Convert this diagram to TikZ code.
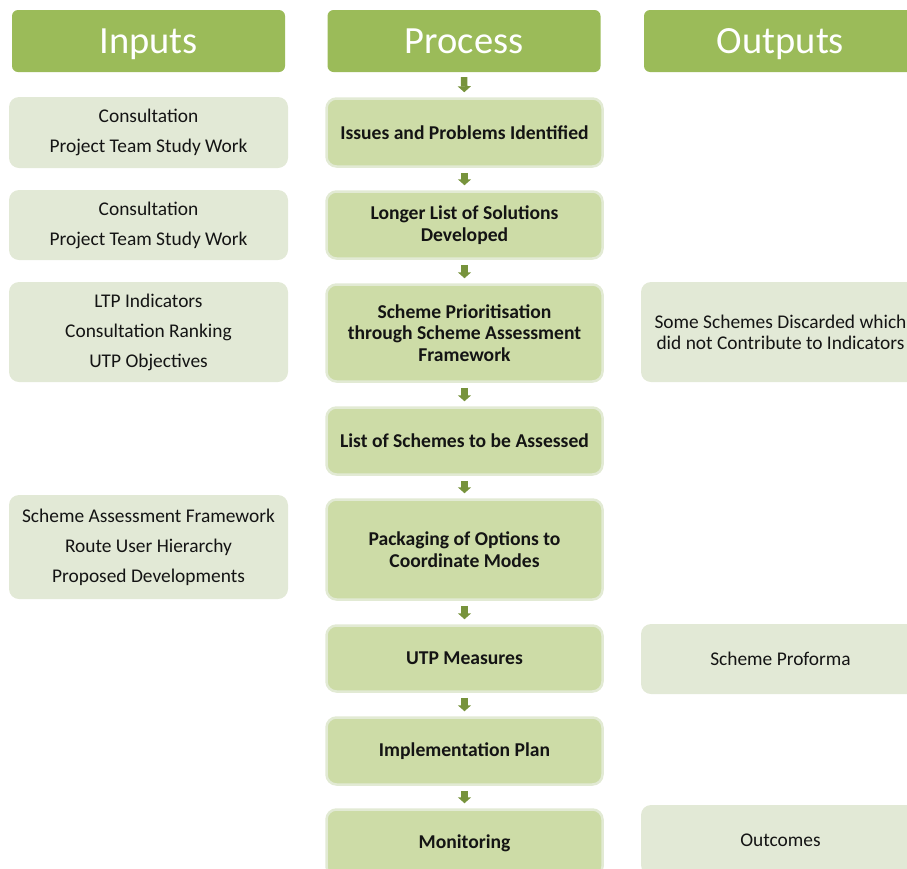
\documentclass[tikz,border=0pt]{standalone}
\usepackage{fontspec}
\setmainfont{Carlito}
\usepackage{xcolor}
\usepackage{tikz}
\usetikzlibrary{arrows.meta,positioning}

\definecolor{headgreen}{RGB}{155,187,89}
\definecolor{procfill}{RGB}{205,220,167}
\definecolor{procedge}{RGB}{226,234,212}
\definecolor{sidefill}{RGB}{226,233,214}
\definecolor{arrowgreen}{RGB}{119,147,60}
\definecolor{txt}{RGB}{20,20,20}

\begin{document}
\begin{tikzpicture}[x=1pt,y=-1pt,
    head/.style={fill=headgreen, rounded corners=6pt, minimum width=273pt, minimum height=62pt,
        inner sep=0pt, text height=26pt, text depth=2pt, text=white, font=\fontsize{38.5}{40}\selectfont},
    side/.style={fill=sidefill, rounded corners=10pt, minimum width=279pt, inner sep=0pt,
        align=center, text=txt, font=\fontsize{19.4}{30}\selectfont},
    sideout/.style={side, font=\fontsize{19.4}{21}\selectfont},
    proc/.style={fill=procfill, draw=procedge, line width=2.5pt, rounded corners=10pt,
        minimum width=276pt, inner sep=0pt, align=center, text=txt,
        font=\fontsize{19.6}{21.5}\selectfont\bfseries},
    flow/.style={draw=arrowgreen, line width=6.5pt, shorten <=5pt, shorten >=5pt,
        -{Triangle[width=13pt,length=6pt]}}]
    \useasboundingbox (0,0) rectangle (907,868);
    \clip (0,0) rectangle (907,868);

    % 标题
    \node[head] (hin) at (148.5,41) {Inputs};
    \node[head] (hproc) at (464,41) {Process};
    \node[head] (hout) at (780.5,41) {Outputs};

    % 输入
    \node[side, minimum height=71pt] (in1) at (148.5,132.5) {Consultation\\Project Team Study Work};
    \node[side, minimum height=70pt] (in2) at (148.5,225) {Consultation\\Project Team Study Work};
    \node[side, minimum height=100pt] (in3) at (148.5,332) {LTP Indicators\\Consultation Ranking\\UTP Objectives};
    \node[side, minimum height=104pt] (in4) at (148.5,547) {Scheme Assessment Framework\\Route User Hierarchy\\Proposed Developments};

    % 流程
    \node[proc, minimum height=68pt] (p1) at (464.5,132.5) {Issues and Problems Identified};
    \node[proc, minimum height=67pt] (p2) at (464.5,225) {Longer List of Solutions\\Developed};
    \node[proc, minimum height=97pt] (p3) at (464.5,333) {Scheme Prioritisation\\through Scheme Assessment\\Framework};
    \node[proc, minimum height=67pt] (p4) at (464.5,441) {List of Schemes to be Assessed};
    \node[proc, minimum height=100pt] (p5) at (464.5,549.5) {Packaging of Options to\\Coordinate Modes};
    \node[proc, minimum height=66pt] (p6) at (464.5,658.5) {UTP Measures};
    \node[proc, minimum height=67pt] (p7) at (464.5,751) {Implementation Plan};
    \node[proc, minimum height=67pt] (p8) at (464.5,843) {Monitoring};

    % 输出
    \node[sideout, minimum height=100pt] (out1) at (780.5,332) {Some Schemes Discarded which\\did not Contribute to Indicators};
    \node[sideout, minimum height=70pt] (out2) at (780.5,659) {Scheme Proforma};
    \node[sideout, minimum height=70pt] (out3) at (780.5,840) {Outcomes};

    % 箭头
    \foreach \a/\b in {hproc/p1,p1/p2,p2/p3,p3/p4,p4/p5,p5/p6,p6/p7,p7/p8}
        \draw[flow] (\a) -- (\b);
\end{tikzpicture}
\end{document}
